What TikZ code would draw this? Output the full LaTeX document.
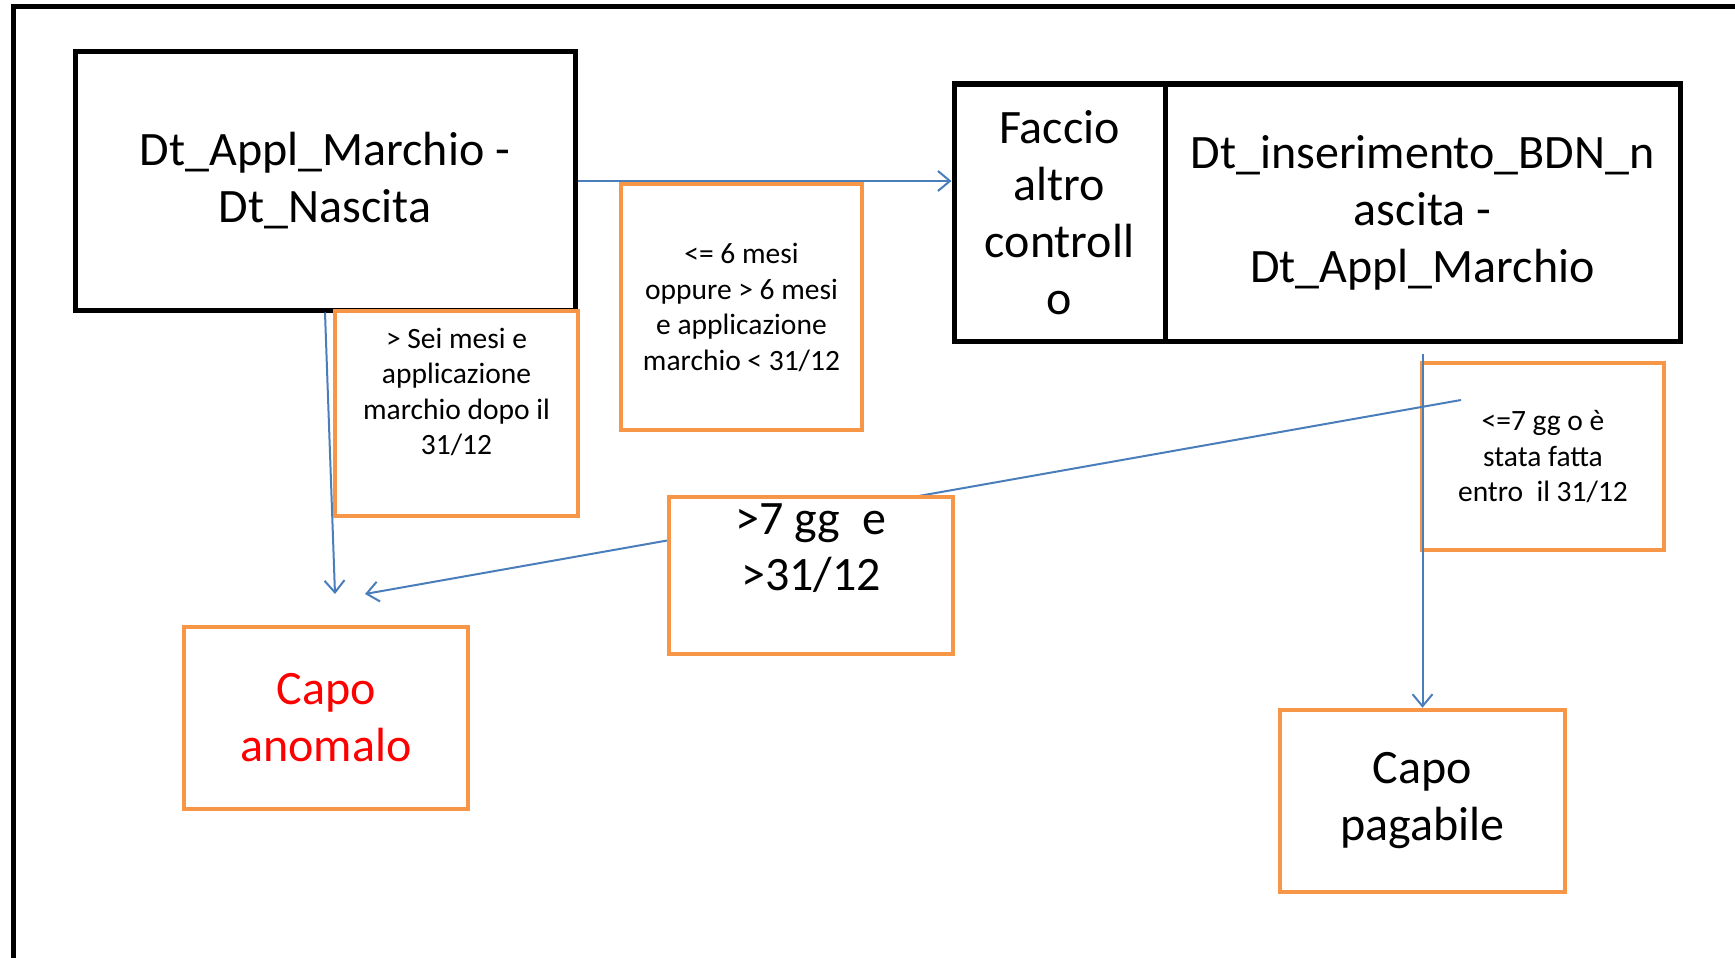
\documentclass[tikz,border=0pt]{standalone}
\usepackage{fontspec}
\setmainfont{Carlito}
\usetikzlibrary{arrows.meta}
\definecolor{boxorange}{HTML}{F79646}
\definecolor{linkblue}{HTML}{4A7EBB}
\definecolor{alertred}{HTML}{FF0000}
\begin{document}
\begin{tikzpicture}[x=1pt,y=-1pt,
  blackbox/.style={draw=black, line width=5pt, fill=white, inner sep=0pt, align=center, font=\fontsize{48}{57}\selectfont},
  orangebox/.style={draw=boxorange, line width=4.5pt, fill=white, inner sep=0pt, align=center},
  smalltext/.style={align=center, inner sep=0pt, font=\fontsize{29.5}{35.5}\selectfont},
  bigtext/.style={align=center, inner sep=0pt, font=\fontsize{48}{56}\selectfont},
  link/.style={draw=linkblue, line width=2pt, -{Straight Barb[length=12pt,width=20pt,line width=2pt]}},
]
\useasboundingbox (0,0) rectangle (1735,958);
% outer frame
\draw[line width=5pt] (13,960) -- (13,7) -- (1737,7);

% main black boxes
\node[blackbox, minimum width=500pt, minimum height=258pt] (A) at (325,181) {Dt\_Appl\_Marchio -\\Dt\_Nascita};
\node[blackbox, minimum width=211pt, minimum height=257pt] (Bl) at (1059.5,212.5) {Faccio\\altro\\controll\\o};
\node[blackbox, minimum width=515pt, minimum height=257pt] (Br) at (1422.5,212.5) {Dt\_inserimento\_BDN\_n\\ascita -\\Dt\_Appl\_Marchio};

% unfilled condition box on the right
\node[orangebox, fill=none, minimum width=242pt, minimum height=187pt] (ok7) at (1543,456.5) {};
\node[smalltext] (ok7t) at (1543,457) {<=7 gg o è\\stata fatta\\entro\ \ il 31/12};

% connectors
\coordinate (anomTip) at (335,594);
\coordinate (crossStart) at (1461,400);
\coordinate (crossTip) at (365,594);
\coordinate (pagStart) at (1422.5,354);
\draw[link] (A.east) -- (A.east -| Bl.west);
\draw[link] (A.south) -- (anomTip);
\draw[link] (crossStart) -- (crossTip);

% condition boxes (white filled, over the connectors)
\node[orangebox, minimum width=241pt, minimum height=246pt] (le6) at (741.5,307) {};
\node[smalltext] (le6t) at (741.5,307.5) {<= 6 mesi\\oppure > 6 mesi\\e applicazione\\marchio < 31/12};
\node[orangebox, minimum width=243pt, minimum height=205pt] (sei) at (456.5,413.5) {};
\node[smalltext] (seit) at (456.5,392) {> Sei mesi e\\applicazione\\marchio dopo il\\31/12};
\node[orangebox, minimum width=284pt, minimum height=157pt] (gt7) at (811,575.5) {};
\node[bigtext] (gt7t) at (811,548) {>7 gg\ \ e\\>31/12};

% outcome boxes
\node[orangebox, minimum width=284pt, minimum height=182pt, font=\fontsize{48}{57}\selectfont, text=alertred] (anom) at (326,718) {Capo\\anomalo};
\node[orangebox, minimum width=285pt, minimum height=182pt, font=\fontsize{48}{57}\selectfont] (pag) at (1422.5,801) {Capo\\pagabile};

\draw[link] (pagStart) -- (pag.north);
\end{tikzpicture}
\end{document}
